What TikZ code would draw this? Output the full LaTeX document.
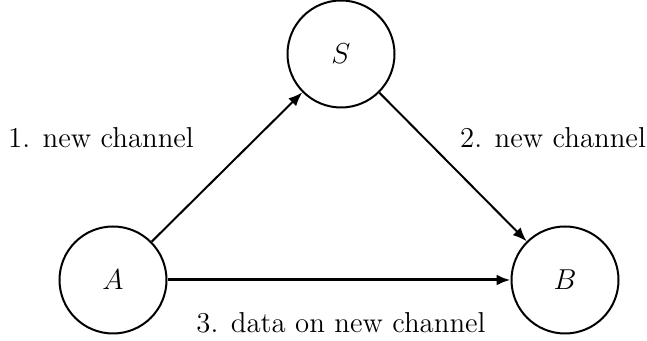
\documentclass[tikz,border=0pt]{standalone}
\usetikzlibrary{arrows.meta}

\begin{document}
\begin{tikzpicture}[x=0.5pt, y=0.5pt,
  station/.style={draw=black, line width=1pt, circle, minimum size=53.5pt, inner sep=0pt, font=\fontsize{14.4}{17}\selectfont},
  chan/.style={-{Latex[length=7pt, width=5.5pt]}, line width=1pt},
  lbl/.style={font=\fontsize{14.4}{17}\selectfont}]
\useasboundingbox (0,0) rectangle (647, 341);
\node[station] (S) at (341, 287) {$S$};
\node[station] (A) at (113, 61) {$A$};
\node[station] (B) at (565, 61) {$B$};
\draw[chan] (A) -- (S);
\draw[chan] (S) -- (B);
\draw[chan, line width=1.5pt] (A) -- (B);
\node[lbl] (l1) at (101, 203) {1. new channel};
\node[lbl] (l2) at (553, 203) {2. new channel};
\node[lbl] (l3) at (341, 18) {3. data on new channel};
\end{tikzpicture}
\end{document}
